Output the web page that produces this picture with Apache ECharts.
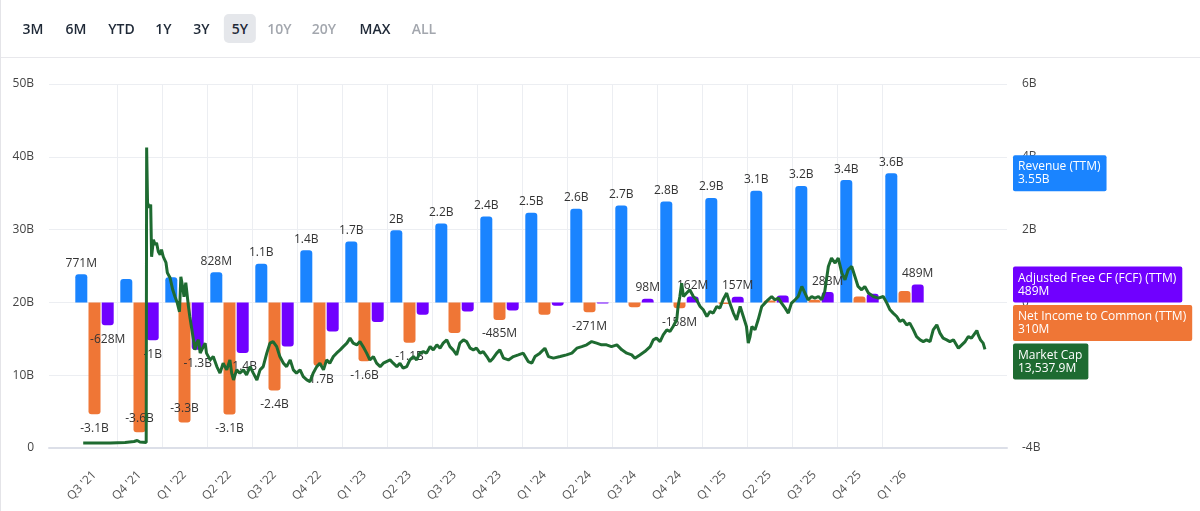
<!DOCTYPE html>
<html>
<head>
<meta charset="utf-8">
<script src="https://cdn.jsdelivr.net/npm/echarts@6/dist/echarts.min.js"></script>
<style>
  html, body { margin: 0; padding: 0; background: #fff; }
  #wrap { position: relative; width: 1200px; height: 511px; overflow: hidden; font-family: "Open Sans", sans-serif; }
  #chart { position: absolute; left: 0; top: 0; width: 1200px; height: 511px; }
  #bar { position: absolute; left: 0; top: 0; width: 1200px; height: 57px; border-bottom: 1px solid #e8e8ec; z-index: 5; }
  #bar span { position: absolute; top: 14px; height: 29px; line-height: 29px; font-size: 14px; font-weight: 600; color: #1f2937; transform: translateX(-50%); padding: 0 8px; border-radius: 5px; }
  #bar span.off { color: #a3a7ae; }
  #bar span.sel { background: #e5e7eb; }
  #edge { position: absolute; left: 0; top: 0; width: 1px; height: 511px; background: #e4e4e8; z-index: 6; }
</style>
</head>
<body>
<div id="wrap">
  <div id="chart"></div>
  <div id="bar"></div>
  <div id="edge"></div>
</div>
<script>
// ---- range buttons ----
const ranges = ["3M", "6M", "YTD", "1Y", "3Y", "5Y", "10Y", "20Y", "MAX", "ALL"];
const rangeCenters = [33, 76, 121.5, 163.5, 201.5, 240, 279.5, 324, 375, 424];
const rangeDisabled = ["10Y", "20Y", "ALL"];
const rangeSelected = "5Y";

// ---- data (billions) ----
const quarters = ["Q3 '21", "Q4 '21", "Q1 '22", "Q2 '22", "Q3 '22", "Q4 '22", "Q1 '23", "Q2 '23", "Q3 '23", "Q4 '23",
                  "Q1 '24", "Q2 '24", "Q3 '24", "Q4 '24", "Q1 '25", "Q2 '25", "Q3 '25", "Q4 '25", "Q1 '26"];
const revenue   = [0.771, 0.64, 0.69, 0.828, 1.06, 1.43, 1.67, 1.98, 2.17, 2.36, 2.46, 2.57, 2.66, 2.77, 2.87, 3.07, 3.2, 3.36, 3.55];
const netIncome = [-3.07, -3.57, -3.30, -3.08, -2.42, -1.74, -1.62, -1.11, -0.84, -0.485, -0.34, -0.271, -0.13, -0.158, -0.044, 0.05, 0.07, 0.16, 0.31];
const fcf       = [-0.628, -1.04, -1.30, -1.39, -1.21, -0.80, -0.54, -0.34, -0.25, -0.22, -0.09, -0.03, 0.098, 0.162, 0.157, 0.19, 0.283, 0.24, 0.489];

// which bar labels are visible (indices)
const revenueLabelIdx   = [0, 3, 4, 5, 6, 7, 8, 9, 10, 11, 12, 13, 14, 15, 16, 17, 18];
const netIncomeLabelIdx = [0, 1, 2, 3, 4, 5, 6, 7, 9, 11, 13];
const fcfLabelIdx       = [0, 1, 2, 3, 12, 13, 14, 16, 18];

// market cap: [position in quarters (0 = Q3 '21), value in B]
const marketCap = [
 [-0.24,0.69],[0.36,0.69],[0.69,0.76],[0.89,0.89],[0.96,1.03],[1.02,0.83],[1.16,0.76],[1.17,41.27],[1.19,33.70],[1.23,33.01],
 [1.26,33.43],[1.28,26.27],[1.32,28.61],[1.36,27.92],[1.39,28.20],[1.43,26.96],[1.47,26.55],[1.50,27.24],[1.54,26.27],[1.60,25.45],
 [1.63,24.07],[1.69,23.38],[1.75,21.73],[1.80,20.77],[1.85,19.94],[1.90,18.71],[1.93,23.52],[1.97,22.15],[2.00,20.77],[2.04,22.70],
 [2.10,19.39],[2.13,18.02],[2.21,14.86],[2.24,13.48],[2.28,14.40],[2.32,14.86],[2.36,13.03],[2.43,13.93],[2.47,14.40],[2.50,13.03],
 [2.58,12.10],[2.65,12.56],[2.73,11.18],[2.80,10.28],[2.87,11.65],[2.95,10.73],[3.02,12.10],[3.06,10.28],[3.10,9.35],[3.17,10.73],
 [3.24,10.28],[3.32,10.73],[3.39,10.04],[3.47,11.18],[3.54,10.28],[3.62,9.35],[3.69,10.73],[3.76,11.18],[3.84,13.03],[3.91,14.40],
 [3.98,14.62],[4.06,13.93],[4.13,12.56],[4.21,11.65],[4.28,11.18],[4.36,12.10],[4.43,10.73],[4.50,10.28],[4.58,10.73],[4.65,9.81],
 [4.73,9.35],[4.80,9.12],[4.87,10.28],[4.95,11.18],[5.02,11.65],[5.10,10.73],[5.17,12.10],[5.24,11.65],[5.32,12.56],[5.39,13.03],
 [5.47,13.48],[5.54,13.93],[5.62,14.40],[5.69,15.09],[5.76,14.40],[5.84,14.17],[5.91,14.62],[5.98,13.93],[6.06,13.03],[6.13,12.10],
 [6.21,12.56],[6.28,11.65],[6.36,11.18],[6.43,11.65],[6.50,11.87],[6.58,12.10],[6.65,11.65],[6.73,11.18],[6.80,11.65],[6.87,10.96],
 [6.95,11.18],[7.02,12.10],[7.10,12.56],[7.17,12.10],[7.24,13.03],[7.32,13.25],[7.39,13.03],[7.47,13.93],[7.54,13.48],[7.62,14.17],
 [7.69,13.71],[7.76,14.40],[7.84,14.86],[7.91,13.93],[7.98,13.48],[8.06,12.79],[8.13,14.40],[8.21,14.86],[8.28,14.62],[8.36,13.71],
 [8.43,13.48],[8.50,13.71],[8.58,13.03],[8.65,13.25],[8.73,12.56],[8.80,11.87],[8.87,12.34],[8.95,13.03],[9.02,13.48],[9.10,12.34],
 [9.21,12.10],[9.32,12.56],[9.43,12.79],[9.54,13.03],[9.65,11.87],[9.73,11.65],[9.80,12.56],[9.91,13.03],[10.02,13.71],[10.10,12.56],
 [10.21,12.34],[10.36,12.56],[10.50,12.79],[10.62,13.03],[10.73,13.71],[10.84,13.93],[10.95,14.17],[11.06,14.62],[11.17,14.40],[11.28,14.17],
 [11.39,14.17],[11.50,13.93],[11.62,14.17],[11.73,13.48],[11.84,13.03],[11.95,12.79],[12.02,12.34],[12.13,12.79],[12.24,13.25],[12.36,13.93],
 [12.43,14.86],[12.50,15.09],[12.58,14.62],[12.65,15.54],[12.73,16.23],[12.80,16.00],[12.87,16.69],[12.95,17.61],[12.98,19.44],[13.02,20.81],
 [13.06,22.65],[13.10,20.81],[13.17,21.28],[13.24,21.73],[13.32,20.81],[13.39,20.36],[13.47,19.44],[13.54,18.98],[13.62,18.06],[13.69,18.75],
 [13.76,18.53],[13.84,19.44],[13.91,19.22],[13.98,20.36],[14.06,21.28],[14.13,19.90],[14.21,18.53],[14.28,17.61],[14.36,19.44],[14.43,18.06],
 [14.50,16.69],[14.54,14.40],[14.58,15.31],[14.62,16.69],[14.69,16.23],[14.76,17.61],[14.84,19.44],[14.91,19.90],[14.98,20.36],[15.06,20.81],
 [15.13,20.36],[15.21,20.59],[15.28,19.90],[15.36,19.22],[15.43,18.53],[15.50,19.90],[15.58,20.36],[15.65,20.81],[15.73,22.19],[15.80,21.28],
 [15.87,20.36],[15.95,20.81],[16.02,20.59],[16.10,20.81],[16.17,20.36],[16.24,21.50],[16.32,24.94],[16.39,26.09],[16.47,25.41],[16.54,26.09],
 [16.62,24.03],[16.69,23.11],[16.76,24.48],[16.84,24.94],[16.91,23.56],[16.98,22.19],[17.06,21.73],[17.13,22.19],[17.21,21.28],[17.32,20.81],
 [17.43,20.59],[17.54,20.81],[17.62,19.90],[17.69,18.98],[17.76,18.53],[17.84,18.06],[17.91,17.37],[17.98,17.61],[18.06,16.92],[18.13,17.15],
 [18.21,16.23],[18.28,15.31],[18.36,14.86],[18.43,14.62],[18.50,14.86],[18.58,14.62],[18.65,16.23],[18.73,16.92],[18.80,15.78],[18.87,15.09],
 [18.95,14.86],[19.02,14.62],[19.10,14.86],[19.21,13.71],[19.36,14.62],[19.43,15.31],[19.50,15.09],[19.62,16.13],[19.65,15.54],[19.70,14.86],
 [19.76,14.40],[19.80,13.5379]
];

// ---- styling ----
const FONT = '"Open Sans", sans-serif';
const C = { rev: '#1a84ff', ni: '#ef7636', fcf: '#7000ff', mc: '#1e6b31' };

// buttons
const bar = document.getElementById('bar');
ranges.forEach((r, i) => {
  const s = document.createElement('span');
  s.textContent = r;
  s.style.left = rangeCenters[i] + 'px';
  if (rangeDisabled.includes(r)) s.className = 'off';
  if (r === rangeSelected) s.className = 'sel';
  bar.appendChild(s);
});

function fmtB(v) {
  const a = Math.abs(v);
  if (a >= 1) {
    const r = Math.round(v * 10 + (v > 0 ? 1e-9 : -1e-9)) / 10;
    return r + 'B';
  }
  return Math.round(v * 1000) + 'M';
}

// label placement: outside the bar end; if it would not fit above the x axis, move it inside the bar end
let toPix = null, plotBottom = Infinity;
function barData(vals, shownIdx) {
  return vals.map((v, i) => {
    let position = v < 0 ? 'bottom' : 'top';
    if (v < 0 && toPix && toPix(v) + 8 + 14 > plotBottom - 5) position = 'insideBottom';
    return {
      value: v,
      label: { show: shownIdx.includes(i), position: position, distance: position === 'top' ? 5 : 8 },
      itemStyle: { borderRadius: v < 0 ? [0, 0, 3, 3] : [3, 3, 0, 0] }
    };
  });
}

const barLabel = { color: '#333', fontSize: 12, fontFamily: FONT, formatter: p => fmtB(p.value) };

function makeSeries() {
  return [
    { name: 'Revenue (TTM)', type: 'bar', xAxisIndex: 1, yAxisIndex: 2, barWidth: 12, barGap: '10%', z: 2,
      itemStyle: { color: C.rev }, label: barLabel, data: barData(revenue, revenueLabelIdx) },
    { name: 'Net Income to Common (TTM)', type: 'bar', xAxisIndex: 1, yAxisIndex: 2, barWidth: 12, barGap: '10%', z: 2,
      itemStyle: { color: C.ni }, label: barLabel, data: barData(netIncome, netIncomeLabelIdx) },
    { name: 'Adjusted Free CF (FCF) (TTM)', type: 'bar', xAxisIndex: 1, yAxisIndex: 2, barWidth: 12, barGap: '10%', z: 2,
      itemStyle: { color: C.fcf }, label: barLabel, data: barData(fcf, fcfLabelIdx) },
    { name: 'Market Cap', type: 'line', xAxisIndex: 0, yAxisIndex: 0, z: 5, showSymbol: false, symbol: 'none',
      lineStyle: { color: C.mc, width: 3 }, data: marketCap }
  ];
}

const chart = echarts.init(document.getElementById('chart'), null, { renderer: 'canvas' });
const option = {
  animation: false,
  textStyle: { fontFamily: FONT },
  grid: [
    { left: 49, right: 193, top: 84, bottom: 63 },
    { left: 72, right: 273, top: 84, bottom: 63 }
  ],
  xAxis: [
    { type: 'value', gridIndex: 0, min: -1, max: 20.29,
      axisLine: { show: true, onZero: false, lineStyle: { color: '#dcdfe8', width: 2 } },
      axisTick: { show: false }, axisLabel: { show: false }, splitLine: { show: false } },
    { type: 'category', gridIndex: 1, data: quarters,
      axisLine: { show: false }, axisTick: { show: false },
      axisLabel: { interval: 0, rotate: 45, margin: 25, color: '#555', fontSize: 12, fontFamily: FONT },
      splitLine: { show: true, showMinLine: false, showMaxLine: false, lineStyle: { color: '#eceef2', width: 1 } } }
  ],
  yAxis: [
    { type: 'value', gridIndex: 0, position: 'left', min: 0, max: 50, interval: 10,
      axisLine: { show: false }, axisTick: { show: false },
      axisLabel: { margin: 15, color: '#444', fontSize: 12, fontFamily: FONT, formatter: v => v === 0 ? '0' : v + 'B' },
      splitLine: { show: true, lineStyle: { color: '#eceef2', width: 1 } } },
    { type: 'value', gridIndex: 0, position: 'right', min: -4, max: 6, interval: 2,
      axisLine: { show: false }, axisTick: { show: false },
      axisLabel: { margin: 15, color: '#444', fontSize: 12, fontFamily: FONT, formatter: v => v === 0 ? '0' : v + 'B' },
      splitLine: { show: false } },
    { type: 'value', gridIndex: 1, min: -4, max: 6, show: false, splitLine: { show: false } }
  ],
  series: makeSeries()
};
chart.setOption(option);

// second pass: with scales known, decide label placement
const rect1 = chart.getModel().getComponent('grid', 1).coordinateSystem.getRect();
plotBottom = rect1.y + rect1.height;
toPix = v => chart.convertToPixel({ yAxisIndex: 2 }, v);
chart.setOption({ series: makeSeries() });

// ---- end-value tags on the right, stacked to avoid overlap ----
const last = a => a[a.length - 1];
const tags = [
  { name: 'Revenue (TTM)', val: last(revenue).toFixed(2) + 'B', color: C.rev, y: chart.convertToPixel({ yAxisIndex: 1 }, last(revenue)) },
  { name: 'Adjusted Free CF (FCF) (TTM)', val: Math.round(last(fcf) * 1000) + 'M', color: C.fcf, y: chart.convertToPixel({ yAxisIndex: 1 }, last(fcf)) },
  { name: 'Net Income to Common (TTM)', val: Math.round(last(netIncome) * 1000) + 'M', color: C.ni, y: chart.convertToPixel({ yAxisIndex: 1 }, last(netIncome)) },
  { name: 'Market Cap', val: (last(marketCap)[1] * 1000).toLocaleString('en-US', { minimumFractionDigits: 1, maximumFractionDigits: 1 }) + 'M', color: C.mc, y: chart.convertToPixel({ yAxisIndex: 0 }, last(marketCap)[1]) }
];
tags.sort((a, b) => a.y - b.y);
const TAG_H = 36, GAP = 2.5;
let prevBottom = -Infinity;
const rect0 = chart.getModel().getComponent('grid', 0).coordinateSystem.getRect();
const tagX = rect0.x + rect0.width + 6;
const graphics = tags.map(t => {
  const top = Math.max(t.y - TAG_H / 2, prevBottom + GAP);
  prevBottom = top + TAG_H;
  return {
    type: 'text', x: tagX, y: top, z: 100,
    style: { text: t.name + '\n' + t.val, fill: '#fff', font: '12px ' + FONT, lineHeight: 13,
             backgroundColor: t.color, padding: [5, 6, 5, 5], borderRadius: 2, align: 'left', verticalAlign: 'top' }
  };
});
chart.setOption({ graphic: graphics });
</script>
</body>
</html>
